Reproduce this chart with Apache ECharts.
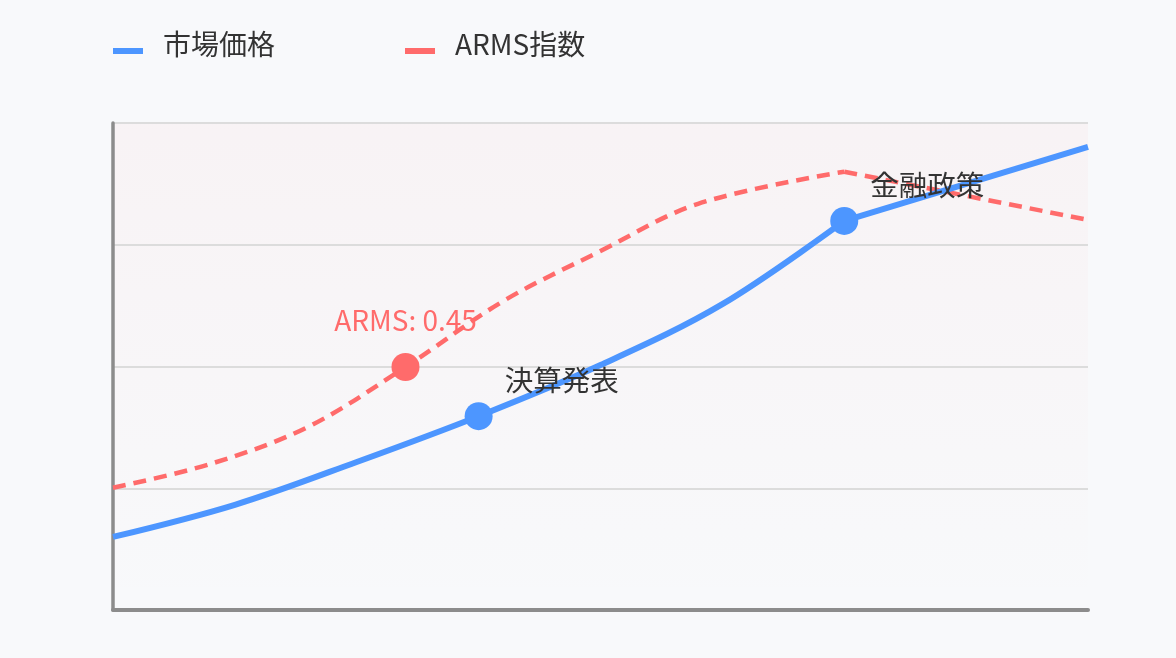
<!DOCTYPE html>
<html lang="ja">

<head>
    <meta charset="UTF-8">
    <meta name="viewport" content="width=device-width, initial-scale=1.0">
    <title>市場価格とARMS指数</title>
    <style>
        html, body { margin: 0; padding: 0; background: #f8f9fb; }
        #chartView { width: 1176px; height: 658px; }
    </style>
</head>

<body>
    <div id="chartView"></div>
</body>

<script src="https://cdn.jsdelivr.net/npm/echarts@6.0.0/dist/echarts.min.js"></script>
<script>
    // 市場価格 (blue line)
    const priceX = [0, 12.5, 25, 37.5, 50, 62.5, 75, 100];
    const priceY = [15.0, 21.6, 30.4, 39.8, 50.3, 62.8, 79.9, 95.1];
    // ARMS指数 (red dashed line)
    const armsX = [0, 10, 20, 30, 40, 50, 60, 75, 100];
    const armsY = [25.1, 30.0, 37.6, 49.9, 63.4, 73.7, 83.4, 90.0, 80.1];
    // the curves bend sharply at this index, after it they run straight
    const priceKink = 6;
    const armsKink = 7;
    // marked points
    const priceEvents = [{ idx: 3, text: '決算発表' }, { idx: 6, text: '金融政策' }];
    const armsEvents = [{ idx: 3, text: 'ARMS: 0.45' }];
    const yTicks = [0, 25, 50, 75, 100];

    const BLUE = '#4d96ff';
    const RED = '#ff6b6b';
    const FONT = '"Noto Sans CJK JP", "Noto Sans", sans-serif';
    // bar sitting in the lower part of the icon box
    const LEGEND_ICON = 'path://M0,0 M0,14 L30,14 L30,20 L0,20 Z';

    function buildData(xs, ys, from, to, events, color, labelOpt) {
        let out = [];
        for (let i = from; i <= to; i++) {
            let ev = events.find(function (e) { return e.idx === i; });
            if (!ev) { out.push([xs[i], ys[i]]); continue; }
            out.push({
                value: [xs[i], ys[i]],
                symbol: 'circle',
                symbolSize: 28,
                itemStyle: { color: color },
                label: Object.assign({ show: true, formatter: ev.text, fontFamily: FONT }, labelOpt)
            });
        }
        return out;
    }

    function getChartOption() {
        let legendBase = {
            top: 30,
            padding: 0,
            icon: LEGEND_ICON,
            itemWidth: 30,
            itemHeight: 20,
            textStyle: { fontSize: 28, color: '#333', fontFamily: FONT, padding: [0, 0, 0, 15] }
        };
        let priceLabel = { position: 'right', offset: [7, -36], fontSize: 28.5, color: '#333' };
        let armsLabel = { position: 'top', distance: 19, fontSize: 28, color: RED };
        let priceLine = { color: BLUE, width: 6 };
        let armsLine = { color: RED, width: 4.5, type: [13, 8] };
        return {
            backgroundColor: '#f8f9fb',
            animation: false,
            legend: [
                Object.assign({ left: 113, data: ['市場価格'] }, legendBase),
                Object.assign({ left: 405, data: ['ARMS指数'] }, legendBase)
            ],
            grid: {
                left: 113, right: 88, top: 123, bottom: 48,
                show: true,
                borderWidth: 0,
                backgroundColor: {
                    type: 'linear', x: 0, y: 0, x2: 0, y2: 1,
                    colorStops: [
                        { offset: 0, color: 'rgba(255,107,107,0.045)' },
                        { offset: 1, color: 'rgba(255,107,107,0)' }
                    ]
                }
            },
            xAxis: {
                type: 'value', min: 0, max: 100,
                axisLine: { show: true, lineStyle: { color: '#8c8c8c', width: 4 } },
                axisTick: { show: false },
                axisLabel: { show: false },
                splitLine: { show: false }
            },
            yAxis: {
                type: 'value', min: yTicks[0], max: yTicks[yTicks.length - 1], interval: 25,
                axisLine: { show: true, lineStyle: { color: '#8c8c8c', width: 3.5 } },
                axisTick: { show: false },
                axisLabel: { show: false },
                splitLine: { show: true, lineStyle: { color: '#dcdcdc', width: 2 } }
            },
            series: [
                {
                    name: 'ARMS指数', type: 'line', smooth: 0.35,
                    symbol: 'none', showSymbol: true, z: 2,
                    itemStyle: { color: RED }, lineStyle: armsLine,
                    data: buildData(armsX, armsY, 0, armsKink, armsEvents, RED, armsLabel)
                },
                {
                    name: 'ARMS指数', type: 'line', smooth: false,
                    symbol: 'none', showSymbol: false, z: 2,
                    itemStyle: { color: RED }, lineStyle: armsLine,
                    data: buildData(armsX, armsY, armsKink, armsX.length - 1, [], RED, armsLabel)
                },
                {
                    name: '市場価格', type: 'line', smooth: 0.35,
                    symbol: 'none', showSymbol: true, z: 3,
                    itemStyle: { color: BLUE }, lineStyle: priceLine,
                    data: buildData(priceX, priceY, 0, priceKink, priceEvents, BLUE, priceLabel)
                },
                {
                    name: '市場価格', type: 'line', smooth: false,
                    symbol: 'none', showSymbol: false, z: 3,
                    itemStyle: { color: BLUE }, lineStyle: priceLine,
                    data: buildData(priceX, priceY, priceKink, priceX.length - 1, [], BLUE, priceLabel)
                }
            ]
        };
    }

    function initChartView() {
        let myChart = echarts.init(document.getElementById('chartView'));
        myChart.setOption(getChartOption());
        window.onresize = function () {
            myChart.resize();
        };
    }

    initChartView();
</script>

</html>
